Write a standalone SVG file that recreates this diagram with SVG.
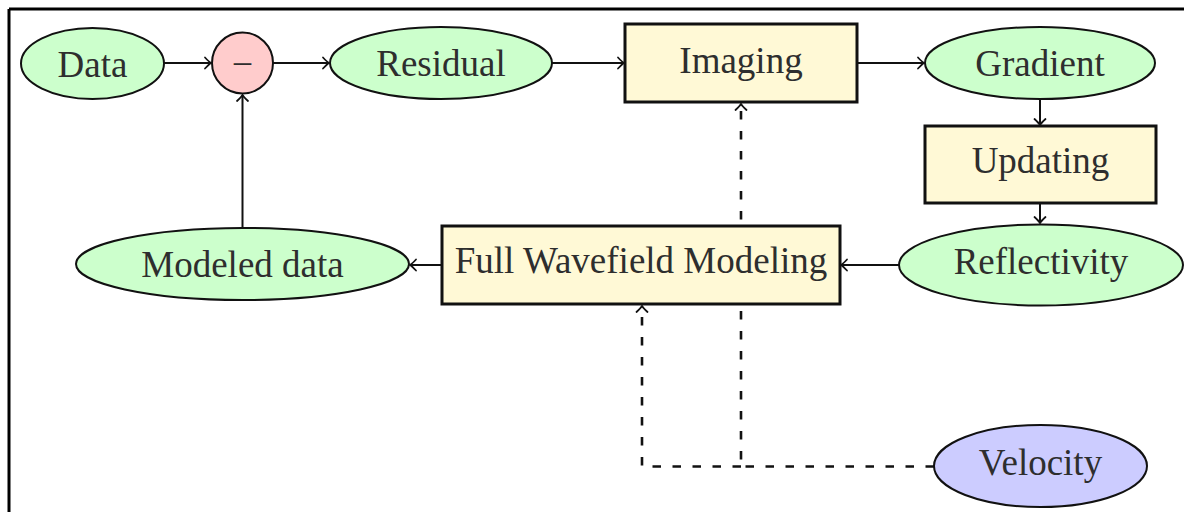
<svg xmlns="http://www.w3.org/2000/svg" width="1184" height="512" viewBox="0 0 1184 512">
<defs>
<marker id="arr" markerUnits="userSpaceOnUse" markerWidth="16" markerHeight="16" viewBox="-10 -8 12 16" refX="0" refY="0" orient="auto">
<path d="M-6,-5.5 Q-2,-1.2 0,0 Q-2,1.2 -6,5.5" fill="none" stroke="#111" stroke-width="1.8" stroke-linecap="round"/>
</marker>
<style>
.e{stroke:#111;stroke-width:2}
.g{fill:#ccffcc}
.p{fill:#ffcccc}
.b{fill:#ccccff}
.y{fill:#fff9d6;stroke:#111;stroke-width:3}
.t{font-family:"Liberation Serif","DejaVu Serif",serif;font-size:37px;fill:#2e2e2e;text-anchor:middle}
.c{fill:none;stroke:#111;stroke-width:2}
.d{fill:none;stroke:#111;stroke-width:2.6;stroke-dasharray:8.5 11.5}
</style>
</defs>
<rect width="1184" height="512" fill="#fff"/>
<path d="M9,9 H1184 M9,9 V512" fill="none" stroke="#000" stroke-width="3"/>
<g id="connectors">
<path class="d" d="M934,466.5 H741 V104" marker-end="url(#arr)"/>
<path class="d" d="M741,466.5 H642 V306" marker-end="url(#arr)"/>
<path class="c" d="M164,63 H211" marker-end="url(#arr)"/>
<path class="c" d="M273,63 H329" marker-end="url(#arr)"/>
<path class="c" d="M552,63 H624" marker-end="url(#arr)"/>
<path class="c" d="M857,63 H924" marker-end="url(#arr)"/>
<path class="c" d="M1040,99 V125" marker-end="url(#arr)"/>
<path class="c" d="M1040,203 V223" marker-end="url(#arr)"/>
<path class="c" d="M899,265 H841" marker-end="url(#arr)"/>
<path class="c" d="M442,265 H410" marker-end="url(#arr)"/>
<path class="c" d="M242.5,228 V95" marker-end="url(#arr)"/>
</g>
<g id="data"><ellipse class="e g" cx="92.5" cy="63.5" rx="71.5" ry="35.5"/><text class="t" x="92.5" y="76.5">Data</text></g>
<g id="minus"><circle class="e p" cx="242.5" cy="63" r="30.5"/><text class="t" x="242.5" y="77" style="font-size:38px">−</text></g>
<g id="residual"><ellipse class="e g" cx="441" cy="63" rx="111" ry="36"/><text class="t" x="441" y="76">Residual</text></g>
<g id="imaging"><rect class="y" x="625" y="24" width="232" height="78"/><text class="t" x="741" y="72.5">Imaging</text></g>
<g id="gradient"><ellipse class="e g" cx="1040" cy="63" rx="115" ry="36"/><text class="t" x="1040" y="76">Gradient</text></g>
<g id="updating"><rect class="y" x="925" y="126" width="231" height="77"/><text class="t" x="1040.5" y="173">Updating</text></g>
<g id="reflectivity"><ellipse class="e g" cx="1041" cy="265" rx="142" ry="40.5"/><text class="t" x="1041" y="274">Reflectivity</text></g>
<g id="fwm"><rect class="y" x="442" y="226" width="398" height="78"/><text class="t" x="641" y="272.5">Full Wavefield Modeling</text></g>
<g id="modeled"><ellipse class="e g" cx="242.5" cy="264" rx="166.5" ry="36"/><text class="t" x="242.5" y="276.5">Modeled data</text></g>
<g id="velocity"><ellipse class="e b" cx="1040.5" cy="466" rx="106.5" ry="41"/><text class="t" x="1040.5" y="474.5">Velocity</text></g>
</svg>
